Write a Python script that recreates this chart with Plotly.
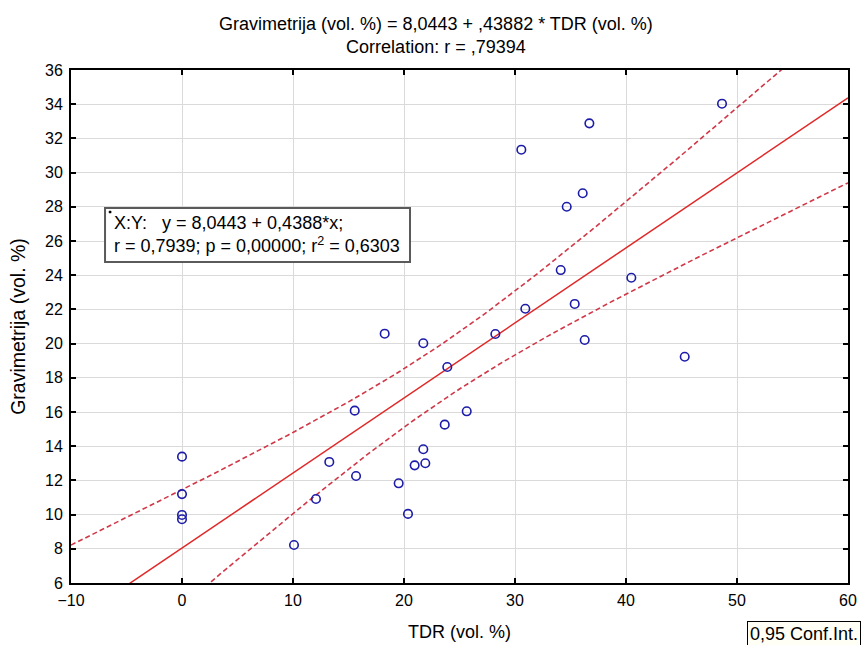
import numpy as np
import plotly.graph_objects as go

# Data
tdr = [0, 0, 0, 0, 10.09, 12.07, 13.27, 15.56, 15.68, 18.26, 19.52, 20.36, 20.96,
       21.74, 21.92, 21.74, 23.9, 23.67, 25.65, 28.23, 30.57, 30.93, 34.12, 34.66,
       35.38, 36.1, 36.28, 36.7, 40.48, 45.29, 48.65]
grav = [13.39, 11.2, 9.98, 9.73, 8.22, 10.91, 13.08, 16.08, 12.26, 20.58, 11.83, 10.04, 12.88,
        13.82, 13.0, 20.02, 18.63, 15.26, 16.04, 20.56, 31.34, 22.04, 24.3, 28.0,
        22.32, 28.79, 20.21, 32.88, 23.85, 19.23, 34.03]
intercept = 8.0443
slope = 0.4388
t_crit = 2.045  # t(0.975, df=29)

x_range = [-10, 60]
y_range = [6, 36]
x_ticks = [-10, 0, 10, 20, 30, 40, 50, 60]
y_ticks = list(range(6, 37, 2))

title_text = ("Gravimetrija (vol. %) = 8,0443 + ,43882 * TDR (vol. %)<br>"
              "Correlation: r = ,79394")
box_text = ("X:Y:   y = 8,0443 + 0,4388*x;<br>"
            "r = 0,7939; p = 0,00000; r<sup>2</sup> = 0,6303")
legend_text = "0,95 Conf.Int."

x = np.array(tdr)
y = np.array(grav)
n = len(x)
resid = y - (intercept + slope * x)
s = np.sqrt(np.sum(resid ** 2) / (n - 2))
xbar = x.mean()
sxx = np.sum((x - xbar) ** 2)
xs = np.linspace(x_range[0], x_range[1], 141)
yfit = intercept + slope * xs
hw = t_crit * s * np.sqrt(1 / n + (xs - xbar) ** 2 / sxx)

FONT = "Liberation Sans, Arial, sans-serif"

fig = go.Figure()
for band in (yfit + hw, yfit - hw):
    fig.add_trace(go.Scatter(x=xs, y=band, mode="lines",
                             line=dict(color="#d03848", width=1.6, dash="5px,3px"),
                             hoverinfo="skip"))
fig.add_trace(go.Scatter(x=xs, y=yfit, mode="lines",
                         line=dict(color="#e02828", width=1.5), hoverinfo="skip"))
fig.add_trace(go.Scatter(x=tdr, y=grav, mode="markers", cliponaxis=False,
                         marker=dict(symbol="circle-open", size=8.5, color="#1c1ca8",
                                     line=dict(width=1.6, color="#1c1ca8"))))

axis_common = dict(showgrid=True, gridcolor="#dadada", gridwidth=1,
                   showline=True, linecolor="black", linewidth=2, mirror="ticks",
                   ticks="inside", ticklen=5, tickcolor="black", tickwidth=1.5,
                   zeroline=False, ticklabeloverflow="allow", automargin=False,
                   tickfont=dict(family=FONT, size=16, color="black"))

fig.update_layout(
    width=861, height=645,
    margin=dict(l=71, r=13, t=70, b=62),
    paper_bgcolor="white", plot_bgcolor="white",
    showlegend=False,
    font=dict(family=FONT, color="black"),
    xaxis=dict(range=x_range, tickvals=x_ticks, ticklabelstandoff=2,
               title=dict(text="TDR (vol. %)", font=dict(size=18), standoff=17),
               **axis_common),
    yaxis=dict(range=y_range, tickvals=y_ticks, ticklabelstandoff=3,
               title=dict(text="Gravimetrija (vol. %)", font=dict(size=19.5), standoff=14),
               **axis_common),
    shapes=[
        dict(type="rect", xref="paper", yref="paper",
             x0=0.0438, x1=0.4363, y0=0.6257, y1=0.7310,
             line=dict(color="#5a5a5a", width=2), fillcolor="white", layer="above"),
        dict(type="rect", xref="paper", yref="paper",
             x0=0.0490, x1=0.0516, y0=0.7212, y1=0.7251,
             line=dict(color="black", width=0.5), fillcolor="black", layer="above"),
    ],
    annotations=[
        dict(text=title_text, xref="paper", yref="paper", x=0.4698, y=1.0,
             yshift=58, xanchor="center", yanchor="top", showarrow=False,
             font=dict(size=18), align="center"),
        dict(text=box_text, xref="paper", yref="paper", x=0.0528, y=0.6784,
             xanchor="left", yanchor="middle", showarrow=False, align="left",
             font=dict(size=18)),
        dict(text=legend_text, xref="paper", yref="paper", x=0.8700, y=0,
             yshift=-38, xanchor="left", yanchor="top", showarrow=False,
             font=dict(size=18), bgcolor="#fffff6", bordercolor="black",
             borderwidth=1, borderpad=2),
    ],
)

# pin the figure to the window's top-left corner so it fills 861x645 exactly
fig.write_html("out.html",
               config={"displayModeBar": False},
               post_script="var d=document.getElementById('{plot_id}');"
                           "d.style.position='fixed';d.style.left='0';d.style.top='0';")
